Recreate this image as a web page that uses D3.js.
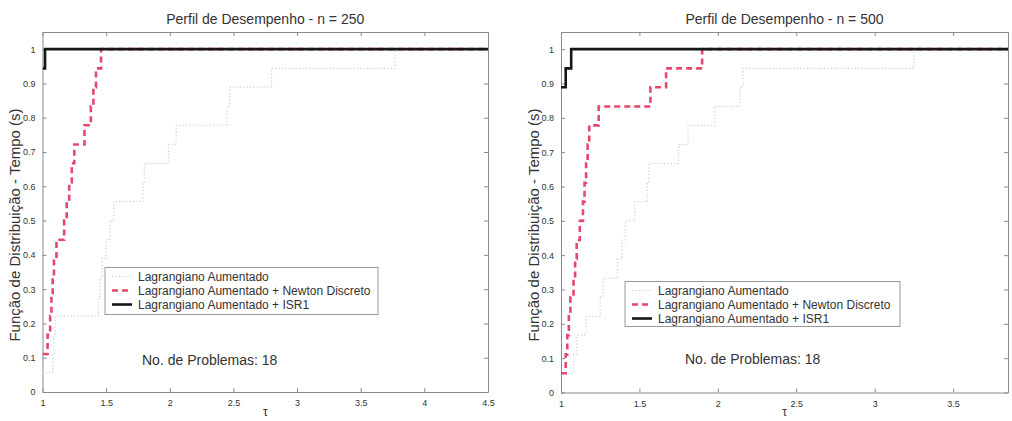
<!DOCTYPE html>
<html>
<head>
<meta charset="utf-8">
<script src="https://cdn.jsdelivr.net/npm/d3@7/dist/d3.min.js"></script>
<style>
  html, body { margin: 0; padding: 0; background: #fff; }
  svg { display: block; font-family: "Liberation Sans", Arial, sans-serif; }
</style>
</head>
<body>
<svg id="chart" width="1012" height="421"></svg>
<script>
// Performance profiles (fraction of the 18 problems solved within a factor tau of the best time)
const seriesNames = [
  "Lagrangiano Aumentado",
  "Lagrangiano Aumentado + Newton Discreto",
  "Lagrangiano Aumentado + ISR1"
];

const rhoTicks = [0, 0.1, 0.2, 0.3, 0.4, 0.5, 0.6, 0.7, 0.8, 0.9, 1];
const tauTicks250 = [1, 1.5, 2, 2.5, 3, 3.5, 4, 4.5];
const tauTicks500 = [1, 1.5, 2, 2.5, 3, 3.5];

// n = 250
const la250Tau  = [1.00, 1.08, 1.09, 1.10, 1.44, 1.45, 1.47, 1.50, 1.53, 1.56, 1.79, 1.80, 1.99, 2.05, 2.45, 2.47, 2.80, 3.77, 4.50];
const la250Rho  = [0.056, 0.111, 0.167, 0.222, 0.278, 0.333, 0.389, 0.444, 0.500, 0.556, 0.611, 0.667, 0.722, 0.778, 0.833, 0.889, 0.944, 1.000, 1.000];
const nd250Tau  = [1.00, 1.04, 1.06, 1.07, 1.08, 1.09, 1.11, 1.17, 1.19, 1.21, 1.23, 1.25, 1.33, 1.38, 1.40, 1.42, 1.46, 4.50];
const nd250Rho  = [0.111, 0.167, 0.222, 0.278, 0.333, 0.389, 0.444, 0.500, 0.556, 0.611, 0.667, 0.722, 0.778, 0.833, 0.889, 0.944, 1.000, 1.000];
const isr250Tau = [1.00, 1.02, 4.50];
const isr250Rho = [0.944, 1.000, 1.000];

// n = 500
const la500Tau  = [1.00, 1.08, 1.10, 1.16, 1.25, 1.27, 1.36, 1.39, 1.41, 1.47, 1.55, 1.56, 1.75, 1.81, 1.98, 2.14, 2.16, 3.25, 3.85];
const la500Rho  = [0.056, 0.111, 0.167, 0.222, 0.278, 0.333, 0.389, 0.444, 0.500, 0.556, 0.611, 0.667, 0.722, 0.778, 0.833, 0.889, 0.944, 1.000, 1.000];
const nd500Tau  = [1.00, 1.03, 1.04, 1.05, 1.06, 1.08, 1.09, 1.10, 1.12, 1.14, 1.15, 1.16, 1.17, 1.18, 1.24, 1.57, 1.67, 1.90, 3.85];
const nd500Rho  = [0.056, 0.111, 0.167, 0.222, 0.278, 0.333, 0.389, 0.444, 0.500, 0.556, 0.611, 0.667, 0.722, 0.778, 0.833, 0.889, 0.944, 1.000, 1.000];
const isr500Tau = [1.00, 1.03, 1.065, 3.85];
const isr500Rho = [0.889, 0.944, 1.000, 1.000];

const problemCount = 18;

const styles = [
  { color: "#b9d2e6", width: 1.2, dash: "1.2,2.2" },
  { color: "#e8476c", width: 2.6, dash: "6,4" },
  { color: "#161616", width: 2.6, dash: null }
];

const panels = [
  {
    title: "Perfil de Desempenho - n = 250",
    left: 42.5, right: 488, top: 32, bottom: 392,
    tauMax: 4.5, tauTicks: tauTicks250,
    series: [[la250Tau, la250Rho], [nd250Tau, nd250Rho], [isr250Tau, isr250Rho]],
    legend: { x: 105, y: 267.5, w: 273, h: 47 },
    note: { x: 142, y: 365 },
    ylabelX: 20
  },
  {
    title: "Perfil de Desempenho - n = 500",
    left: 561, right: 1008, top: 32, bottom: 392.5,
    tauMax: 3.85, tauTicks: tauTicks500,
    series: [[la500Tau, la500Rho], [nd500Tau, nd500Rho], [isr500Tau, isr500Rho]],
    legend: { x: 625, y: 281.5, w: 275, h: 45 },
    note: { x: 685, y: 364 },
    ylabelX: 539
  }
];

const svg = d3.select("#chart");
const tickFmt = d => String(+(+d).toFixed(2));

panels.forEach(p => {
  const x = d3.scaleLinear().domain([1, p.tauMax]).range([p.left, p.right]);
  const y = d3.scaleLinear().domain([0, 1.05]).range([p.bottom, p.top]);
  const g = svg.append("g");

  // axes box with inward ticks on all four sides
  const axisColor = "#8a8a8a";
  const styleAxis = sel => {
    sel.select(".domain").attr("stroke", axisColor);
    sel.selectAll(".tick line").attr("stroke", axisColor);
    sel.selectAll(".tick text").attr("fill", "#333").attr("font-size", 9)
      .attr("font-family", "'Liberation Sans', Arial, sans-serif");
  };
  g.append("g").attr("transform", `translate(0,${p.bottom})`)
    .call(d3.axisBottom(x).tickValues(p.tauTicks).tickFormat(tickFmt).tickSizeInner(-4).tickSizeOuter(0).tickPadding(8))
    .call(styleAxis);
  g.append("g").attr("transform", `translate(0,${p.top})`)
    .call(d3.axisTop(x).tickValues(p.tauTicks).tickFormat("").tickSizeInner(-4).tickSizeOuter(0))
    .call(styleAxis);
  g.append("g").attr("transform", `translate(${p.left},0)`)
    .call(d3.axisLeft(y).tickValues(rhoTicks).tickFormat(tickFmt).tickSizeInner(-4).tickSizeOuter(0).tickPadding(7))
    .call(styleAxis);
  g.append("g").attr("transform", `translate(${p.right},0)`)
    .call(d3.axisRight(y).tickValues(rhoTicks).tickFormat("").tickSizeInner(-4).tickSizeOuter(0))
    .call(styleAxis);
  g.selectAll(".domain").attr("fill", "none");

  // profile curves
  const clipId = "clip" + p.tauMax;
  svg.append("clipPath").attr("id", clipId).append("rect")
    .attr("x", p.left).attr("y", p.top).attr("width", p.right - p.left).attr("height", p.bottom - p.top);
  const line = d3.line().x(d => x(d[0])).y(d => y(d[1])).curve(d3.curveStepAfter);
  p.series.forEach((s, i) => {
    const pts = s[0].map((t, k) => [t, s[1][k]]);
    g.append("path")
      .attr("clip-path", `url(#${clipId})`)
      .attr("d", line(pts))
      .attr("fill", "none")
      .attr("stroke", styles[i].color)
      .attr("stroke-width", styles[i].width)
      .attr("stroke-dasharray", styles[i].dash)
      .attr("stroke-linejoin", "miter");
  });

  // title and axis labels
  g.append("text").attr("x", (p.left + p.right) / 2).attr("y", 24)
    .attr("text-anchor", "middle").attr("font-size", 14)
    .attr("fill", "#333").text(p.title);
  g.append("text").attr("x", (p.left + p.right) / 2).attr("y", 416)
    .attr("text-anchor", "middle").attr("font-size", 12).attr("fill", "#333").text("τ");
  g.append("text")
    .attr("transform", `translate(${p.ylabelX},225) rotate(-90)`)
    .attr("text-anchor", "middle").attr("font-size", 15).attr("fill", "#333")
    .text("Função de Distribuição - Tempo (s)");

  // legend
  const L = p.legend;
  const lg = g.append("g").attr("transform", `translate(${L.x},${L.y})`);
  lg.append("rect").attr("width", L.w).attr("height", L.h)
    .attr("fill", "#fff").attr("stroke", "#9a9a9a").attr("stroke-width", 1);
  seriesNames.forEach((name, i) => {
    const ry = 9 + i * 14;
    lg.append("line").attr("x1", 7).attr("x2", 27).attr("y1", ry).attr("y2", ry)
      .attr("stroke", styles[i].color).attr("stroke-width", styles[i].width)
      .attr("stroke-dasharray", styles[i].dash);
    lg.append("text").attr("x", 33).attr("y", ry + 4)
      .attr("font-size", 12).attr("fill", "#333").text(name);
  });

  // problem count note
  g.append("text").attr("x", p.note.x).attr("y", p.note.y)
    .attr("font-size", 14).attr("fill", "#333").text("No. de Problemas: " + problemCount);
});
</script>
</body>
</html>
